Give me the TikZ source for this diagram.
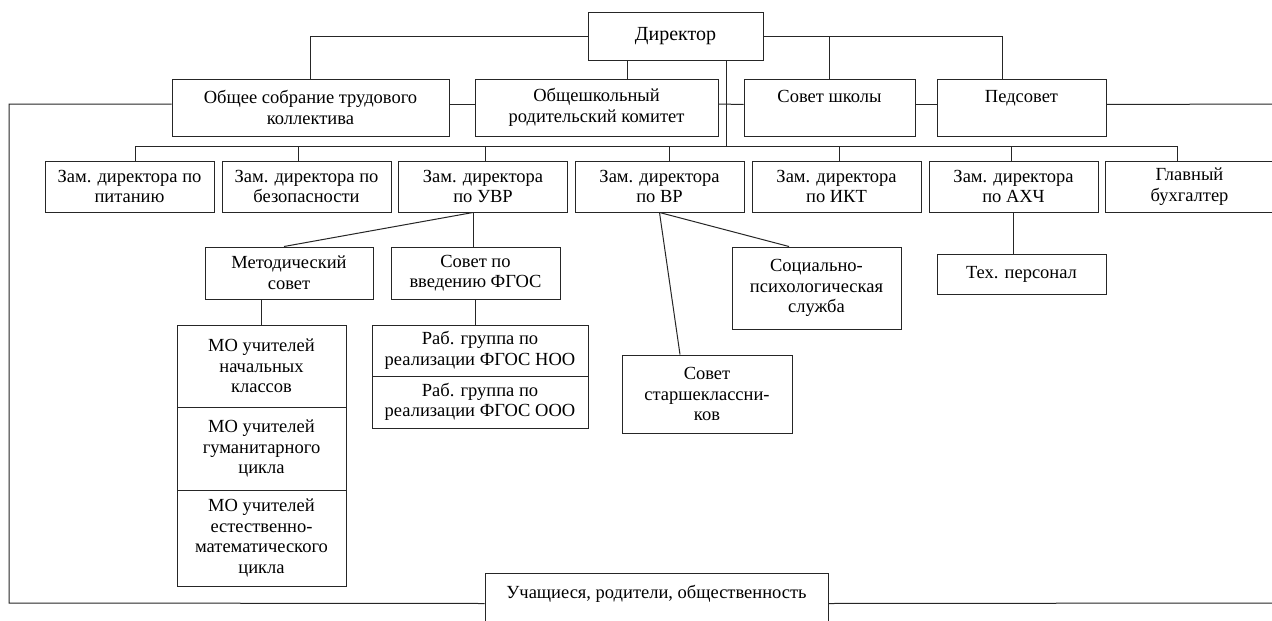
\documentclass[tikz,border=0pt]{standalone}
\usepackage{fontspec}
\setmainfont{Liberation Serif}

\begin{document}
\begin{tikzpicture}[
    x=1pt, y=-1pt,
    line width=1pt,
    draw=black!85,
    font=\fontsize{18.5}{20.5}\selectfont,
    unit/.style={draw=black!85, fill=white, align=center, inner sep=0pt,
                 minimum width=169pt, minimum height=51pt}
]

    \clip (0,0) rectangle (1272,621);
    \fill[white] (0,0) rectangle (1272,621);

    % Director
    \node[unit, minimum width=175pt, minimum height=48pt,
          font=\fontsize{20}{24}\selectfont] (dir) at (675.5,36) {Директор};

    % Councils
    \node[unit, minimum width=277pt, minimum height=57pt] (meet) at (310.5,107.5)
        {Общее собрание трудового\\коллектива};
    \node[unit, minimum width=243pt, minimum height=57pt] (parents) at (596.5,107.5)
        {Общешкольный\\родительский комитет};
    \node[unit, minimum width=171pt, minimum height=0pt, text height=23pt,
          text depth=34pt, anchor=north] (board) at (829.5,79) {Совет школы};
    \node[unit, minimum height=0pt, text height=23pt, text depth=34pt,
          anchor=north] (teach) at (1021.5,79) {Педсовет};

    % Deputies
    \node[unit] (z1) at (129.5,186.5) {Зам. директора по\\питанию};
    \node[unit] (z2) at (306.5,186.5) {Зам. директора по\\безопасности};
    \node[unit] (z3) at (483,186.5) {Зам. директора\\по УВР};
    \node[unit] (z4) at (659.5,186.5) {Зам. директора\\по ВР};
    \node[unit] (z5) at (836.5,186.5) {Зам. директора\\по ИКТ};
    \node[unit] (z6) at (1013.5,186.5) {Зам. директора\\по АХЧ};
    \node[unit] (z7) at (1189.5,186.5) {Главный\\бухгалтер};

    % Under UVR
    \node[unit, minimum width=168pt, minimum height=52pt] (met) at (289,273)
        {Методический\\совет};
    \node[unit, minimum height=52pt] (fgos) at (475.5,273)
        {Совет по\\введению ФГОС};
    \node[unit, minimum height=82pt] (mo1) at (261.5,366)
        {МО учителей\\начальных\\классов};
    \node[unit, minimum height=83pt] (mo2) at (261.5,448.5)
        {МО учителей\\гуманитарного\\цикла};
    \node[unit, minimum height=96pt] (mo3) at (261.5,538)
        {МО учителей\\естественно-\\математического\\цикла};
    \node[unit, minimum width=216pt] (rg1) at (480,350.5)
        {Раб. группа по\\реализации ФГОС НОО};
    \node[unit, minimum width=216pt, minimum height=52pt] (rg2) at (480,402)
        {Раб. группа по\\реализации ФГОС ООО};

    % Under VR and AHCh
    \node[unit, minimum height=82pt] (soc) at (816.5,288)
        {Социально-\\психологическая\\служба};
    \node[unit, minimum width=170pt, minimum height=78pt] (senior) at (707,394)
        {Совет\\старшеклассни-\\ков};
    \node[unit, minimum height=40pt] (tech) at (1021.5,274) {Тех. персонал};

    % Pupils
    \node[unit, minimum width=343pt, minimum height=0pt, text height=25pt,
          text depth=35pt, anchor=north] (pupils) at (656.5,573)
        {Учащиеся, родители, общественность};

    % Free ends
    \coordinate (busL) at (135,146);
    \coordinate (busR) at (1177,146);
    \coordinate (rim) at (1272,104);
    \coordinate (corner) at (9,603);
    \coordinate (rim2) at (1272,603);

    % Director links
    \draw (dir.west) -| (meet.north);
    \draw (dir.east) -| ([xshift=-19.5pt]teach.north);
    \draw (board.north |- dir.east) -- (board.north);
    \draw ([xshift=-48.5pt]dir.south) -- ([xshift=30.5pt]parents.north);
    \draw ([xshift=50.5pt]dir.south) |- (busR);

    % Council row
    \draw ([yshift=3.5pt]meet.east) -- ([yshift=3.5pt]parents.west);
    \draw ([yshift=3.5pt]parents.east) -- ([yshift=3.5pt]board.west);
    \draw ([yshift=3.5pt]board.east) -- ([yshift=3.5pt]teach.west);
    \draw ([yshift=3.5pt]teach.east) -- (rim);
    \draw ([yshift=3.5pt]meet.west) -| (corner) -- (pupils.west);
    \draw (pupils.east) -- (rim2);

    % Deputies bus
    \draw (busL) -- (busR);
    \foreach \n/\dx in {z1/5.5, z2/-8.5, z3/2, z4/9.5, z5/2.5, z6/-2.5, z7/-12.5}
        \draw ([xshift=\dx pt]\n.north) |- (busL);

    % Lower links
    \draw ([xshift=-10pt]z3.south) -- ([xshift=-5pt]met.north);
    \draw ([xshift=-10pt]z3.south) -- ([xshift=-2.5pt]fgos.north);
    \draw (mo1.north |- met.south) -- (mo1.north);
    \draw (fgos.south) -- (fgos.south |- rg1.north);
    \draw (z4.south) -- ([xshift=-27pt]senior.north);
    \draw (z4.south) -- ([xshift=-27.5pt]soc.north);
    \draw (z6.south) -- (z6.south |- tech.north);

\end{tikzpicture}
\end{document}
